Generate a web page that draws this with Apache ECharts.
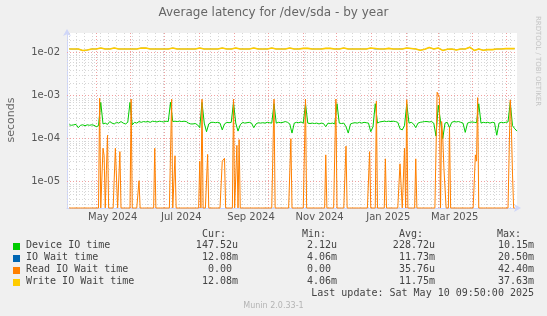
<!DOCTYPE html>
<html>
<head>
<meta charset="utf-8">
<script src="https://cdn.jsdelivr.net/npm/echarts@6/dist/echarts.min.js"></script>
<style>
  html, body { margin: 0; padding: 0; background: #f0f0f0; }
  #chart { width: 547px; height: 316px; }
</style>
</head>
<body>
<div id="chart"></div>
<script>
// the graph covers 400 days ending at the last update
const rangeStart = new Date(2024, 3, 5, 9, 50).getTime();
const rangeEnd = new Date(2025, 4, 10, 9, 50).getTime();
const DAY = 86400000;

// Device IO time (seconds), one value every 2 days starting at day 2
const deviceIoTime = [
  2.1e-4, 2.05e-4, 2.1e-4, 2.15e-4, 1.8e-4, 2.05e-4, 2.1e-4, 2.0e-4, 2.1e-4, 2.05e-4,
  2.1e-4, 2.05e-4, 1.9e-4, 2.0e-4, 7.0e-4, 2.2e-4, 2.3e-4, 2.15e-4, 2.5e-4, 2.3e-4,
  2.2e-4, 2.4e-4, 2.3e-4, 2.5e-4, 2.3e-4, 2.2e-4, 2.4e-4, 7.0e-4, 2.1e-4, 2.4e-4,
  2.3e-4, 2.5e-4, 2.4e-4, 2.5e-4, 2.45e-4, 2.5e-4, 2.4e-4, 2.55e-4, 2.5e-4, 2.45e-4,
  2.55e-4, 2.5e-4, 2.45e-4, 2.55e-4, 2.5e-4, 7.0e-4, 2.5e-4, 2.55e-4, 2.5e-4, 2.55e-4,
  2.5e-4, 2.55e-4, 2.5e-4, 2.3e-4, 2.2e-4, 2.2e-4, 2.25e-4, 2.1e-4, 1.8e-4, 7.0e-4,
  2.3e-4, 1.45e-4, 2.2e-4, 2.4e-4, 2.4e-4, 2.35e-4, 2.4e-4, 2.3e-4, 1.6e-4, 2.2e-4,
  2.4e-4, 2.35e-4, 2.4e-4, 7.0e-4, 2.3e-4, 1.5e-4, 2.1e-4, 2.4e-4, 2.3e-4, 2.35e-4,
  2.4e-4, 2.3e-4, 1.8e-4, 2.2e-4, 2.35e-4, 2.3e-4, 2.35e-4, 2.3e-4, 2.4e-4, 2.35e-4,
  2.3e-4, 6.5e-4, 2.3e-4, 2.4e-4, 2.35e-4, 2.4e-4, 2.5e-4, 2.4e-4, 2.2e-4, 1.35e-4,
  2.3e-4, 2.4e-4, 2.35e-4, 2.45e-4, 2.3e-4, 6.5e-4, 2.3e-4, 2.25e-4, 2.3e-4, 2.25e-4,
  2.3e-4, 2.2e-4, 2.3e-4, 2.25e-4, 1.9e-4, 2.3e-4, 2.25e-4, 2.3e-4, 2.2e-4, 6.5e-4,
  2.3e-4, 2.25e-4, 2.3e-4, 1.9e-4, 1.35e-4, 2.2e-4, 2.3e-4, 2.35e-4, 2.3e-4, 2.4e-4,
  2.3e-4, 2.4e-4, 2.35e-4, 2.3e-4, 1.45e-4, 1.9e-4, 6.5e-4, 2.3e-4, 2.45e-4, 2.5e-4,
  2.55e-4, 2.5e-4, 2.55e-4, 2.5e-4, 2.55e-4, 2.5e-4, 2.4e-4, 1.7e-4, 1.6e-4, 2.0e-4,
  6.5e-4, 2.3e-4, 2.4e-4, 2.2e-4, 1.8e-4, 2.3e-4, 2.4e-4, 2.45e-4, 2.5e-4, 2.5e-4,
  2.45e-4, 2.5e-4, 2.3e-4, 1.15e-4, 6.0e-4, 2.6e-4, 1.0e-4, 2.3e-4, 2.4e-4, 1.8e-4,
  2.4e-4, 2.5e-4, 2.45e-4, 2.5e-4, 2.4e-4, 2.3e-4, 1.4e-4, 2.3e-4, 2.4e-4, 2.45e-4,
  2.4e-4, 2.35e-4, 6.5e-4, 2.3e-4, 2.4e-4, 2.35e-4, 2.4e-4, 2.3e-4, 2.4e-4, 2.35e-4,
  1.2e-4, 2.3e-4, 2.4e-4, 2.35e-4, 2.4e-4, 2.45e-4, 7.0e-4, 2.0e-4, 1.7e-4, 1.5e-4
];
const deviceFirstDay = 2, deviceStep = 2;

// Write IO Wait time and IO Wait time (seconds), one value every 4 days starting at day 2
const writeIoWaitTime = [
  0.0122, 0.0122, 0.0122, 0.0112, 0.0115, 0.0122, 0.0122, 0.0128, 0.0122, 0.0122,
  0.0128, 0.0122, 0.0122, 0.0122, 0.0122, 0.0122, 0.0128, 0.0128, 0.0122, 0.0122,
  0.0122, 0.0122, 0.0122, 0.0128, 0.0122, 0.0122, 0.0122, 0.0122, 0.0122, 0.0128,
  0.0122, 0.0122, 0.0122, 0.0122, 0.0128, 0.0122, 0.0122, 0.0128, 0.0122, 0.0122,
  0.0122, 0.0128, 0.0122, 0.0122, 0.0122, 0.0128, 0.0122, 0.0122, 0.0122, 0.0128,
  0.0122, 0.0122, 0.0126, 0.0126, 0.0122, 0.0122, 0.0122, 0.0126, 0.0126, 0.0122,
  0.0122, 0.0128, 0.0122, 0.0122, 0.0122, 0.0122, 0.0122, 0.0128, 0.0125, 0.0122,
  0.0122, 0.0126, 0.0122, 0.0122, 0.0122, 0.0128, 0.0125, 0.0122, 0.0114, 0.0120,
  0.0132, 0.0122, 0.0128, 0.0113, 0.0120, 0.0122, 0.0116, 0.0122, 0.0122, 0.0134,
  0.0113, 0.0122, 0.0114, 0.0118, 0.0118, 0.0122, 0.0122, 0.0124, 0.0124, 0.0124
];
const ioWaitTime = [
  0.0122, 0.0121, 0.0122, 0.0112, 0.0115, 0.0122, 0.0122, 0.0128, 0.0122, 0.0122,
  0.0128, 0.0122, 0.0122, 0.0122, 0.0122, 0.0122, 0.0128, 0.0128, 0.0122, 0.0122,
  0.0122, 0.0122, 0.0122, 0.0128, 0.0122, 0.0122, 0.0122, 0.0122, 0.0122, 0.0128,
  0.0122, 0.0122, 0.0122, 0.0122, 0.0128, 0.0122, 0.0122, 0.0128, 0.0122, 0.0122,
  0.0122, 0.0128, 0.0122, 0.0122, 0.0122, 0.0128, 0.0122, 0.0122, 0.0122, 0.0128,
  0.0122, 0.0122, 0.0126, 0.0126, 0.0122, 0.0122, 0.0122, 0.0126, 0.0126, 0.0122,
  0.0122, 0.0128, 0.0122, 0.0122, 0.0122, 0.0122, 0.0122, 0.0128, 0.0121, 0.0122,
  0.0122, 0.0126, 0.0122, 0.0122, 0.0122, 0.0128, 0.0125, 0.0122, 0.0114, 0.0120,
  0.0132, 0.0122, 0.0128, 0.0113, 0.0120, 0.0122, 0.0116, 0.0122, 0.0122, 0.0134,
  0.0113, 0.0122, 0.0114, 0.0118, 0.0118, 0.0122, 0.0122, 0.0124, 0.0124, 0.0124
];
const waitFirstDay = 2, waitStep = 4;

// Read IO Wait time: 0 on every day from day 2 to day 398 except these [day, seconds]
const readIoWaitSpikes = [
  [29, 8.7e-4], [32, 6e-5], [33, 4e-5], [35, 1.8e-5], [36, 1.2e-4], [43, 6e-5], [44, 6e-5],
  [47, 5e-5], [57, 8.3e-4], [64, 1.05e-5], [78, 6e-5], [93, 8.3e-4], [96, 4e-5],
  [118, 3e-5], [120, 8.3e-4], [125, 4.3e-5], [138, 3e-5], [139, 3.2e-5], [140, 3.5e-5],
  [148, 8.3e-4], [151, 7e-5], [153, 9.5e-5], [184, 8.3e-4], [199, 1e-4], [212, 8.3e-4],
  [230, 4.2e-5], [239, 8.3e-4], [248, 6.7e-5], [269, 5e-5], [275, 7.5e-4], [283, 3.4e-5],
  [296, 2.6e-5], [297, 2.6e-5], [300, 6e-5], [302, 8e-4], [310, 3.4e-5],
  [329, 1.2e-3], [330, 1.1e-3], [331, 9e-4], [333, 2.5e-4], [334, 1.1e-4], [335, 2.1e-5],
  [336, 2.1e-5], [340, 1.8e-4], [363, 4.2e-5], [364, 3e-5], [365, 9e-4],
  [394, 8e-4], [395, 1.8e-4], [396, 1.5e-5]
];
const readFirstDay = 2, readLastDay = 398;

// axes
const yTickValues = [1e-5, 1e-4, 1e-3, 1e-2];
const yTickLabels = ['1e-05', '1e-04', '1e-03', '1e-02'];
const yMinorValues = [
  3e-6, 4e-6, 5e-6, 6e-6, 7e-6, 8e-6, 9e-6,
  2e-5, 3e-5, 4e-5, 5e-5, 6e-5, 7e-5, 8e-5, 9e-5,
  2e-4, 3e-4, 4e-4, 5e-4, 6e-4, 7e-4, 8e-4, 9e-4,
  2e-3, 3e-3, 4e-3, 5e-3, 6e-3, 7e-3, 8e-3, 9e-3,
  2e-2
];
const yBottom = 2.44e-6, yTop = 0.0287;
const xLabelDates = [[2024, 4, 16], [2024, 6, 16], [2024, 8, 16], [2024, 10, 16], [2025, 0, 16], [2025, 2, 16]];
const xLabelTexts = ['May 2024', 'Jul 2024', 'Sep 2024', 'Nov 2024', 'Jan 2025', 'Mar 2025'];

// legend table
const legendNames = ['Device IO time', 'IO Wait time', 'Read IO Wait time', 'Write IO Wait time'];
const legendColors = ['#00cc00', '#0066b3', '#ff8000', '#ffcc00'];
const legendCur = ['147.52u', '12.08m', '0.00 ', '12.08m'];
const legendMin = ['2.12u', '4.06m', '0.00 ', '4.06m'];
const legendAvg = ['228.72u', '11.73m', '35.76u', '11.75m'];
const legendMax = ['10.15m', '20.50m', '42.40m', '37.63m'];
const lastUpdate = 'Last update: Sat May 10 09:50:00 2025';

const log = Math.log10;
const yMin = log(yBottom), yMax = log(yTop);
const dayTime = d => rangeStart + d * DAY;

const deviceData = deviceIoTime.map((v, i) => [dayTime(deviceFirstDay + i * deviceStep), log(v)]);
const writeData = writeIoWaitTime.map((v, i) => [dayTime(waitFirstDay + i * waitStep), log(v)]);
const ioWaitData = ioWaitTime.map((v, i) => [dayTime(waitFirstDay + i * waitStep), log(v)]);
const readByDay = new Map(readIoWaitSpikes);
const readData = [];
for (let d = readFirstDay; d <= readLastDay; d++) {
  const v = readByDay.get(d) || 0;
  readData.push([dayTime(d), v > 0 ? log(v) : yMin]);
}

// rrdtool style grid: gray dotted minor lines, red dotted major lines
const minorStyle = { color: '#d6d6d6', type: [1, 2], width: 1 };
const majorStyle = { color: '#f0a0a0', type: [1, 2], width: 1 };
const gridLines = [];
for (let k = 0; ; k++) {
  const t = new Date(2024, 3, 7 + 7 * k).getTime(); // Sundays
  if (t > rangeEnd) break;
  gridLines.push({ xAxis: t, lineStyle: minorStyle });
}
yMinorValues.forEach(v => gridLines.push({ yAxis: log(v), lineStyle: minorStyle }));
for (let k = 0; k <= 12; k++) {
  gridLines.push({ xAxis: new Date(2024, 4 + k, 1).getTime(), lineStyle: majorStyle });
}
yTickValues.forEach(v => gridLines.push({ yAxis: log(v), lineStyle: majorStyle }));

const xLabelTimes = xLabelDates.map(d => new Date(d[0], d[1], d[2]).getTime());
const yLabelValues = yTickValues.map(log);

const mono = '"DejaVu Sans Mono"';
const sans = '"DejaVu Sans"';
const legendFill = '#444';
const graphics = [];
function addText(text, x, y, align, extra) {
  graphics.push(Object.assign({
    type: 'text', x: x, y: y, silent: true,
    style: { text: text, font: '10px ' + mono, fill: legendFill,
      align: align, textAlign: align, verticalAlign: 'middle', textVerticalAlign: 'middle' }
  }, extra || {}));
}
const headerY = 234, rowY0 = 245.5, rowStep = 12;
addText('Cur:', 202, headerY, 'left');
addText('Min:', 302, headerY, 'left');
addText('Avg:', 399, headerY, 'left');
addText('Max:', 497, headerY, 'left');
legendNames.forEach((name, i) => {
  const y = rowY0 + i * rowStep;
  graphics.push({ type: 'rect', silent: true, shape: { x: 13, y: Math.round(y) - 3, width: 7, height: 7 },
    style: { fill: legendColors[i] } });
  addText(name, 26, y, 'left');
  addText(legendCur[i], 238, y, 'right');
  addText(legendMin[i], 337, y, 'right');
  addText(legendAvg[i], 435, y, 'right');
  addText(legendMax[i], 534, y, 'right');
});
addText(lastUpdate, 534, rowY0 + 4 * rowStep, 'right');
graphics.push({ type: 'text', x: 273.5, y: 306, silent: true,
  style: { text: 'Munin 2.0.33-1', font: '8px ' + sans, fill: '#b4b4b4',
    align: 'center', textAlign: 'center', verticalAlign: 'middle', textVerticalAlign: 'middle' } });
graphics.push({ type: 'text', x: 11, y: 120, rotation: Math.PI / 2, silent: true,
  style: { text: 'seconds', font: '11px ' + sans, fill: '#666',
    align: 'center', textAlign: 'center', verticalAlign: 'middle', textVerticalAlign: 'middle' } });
graphics.push({ type: 'text', x: 538, y: 61, rotation: -Math.PI / 2, silent: true,
  style: { text: 'RRDTOOL / TOBI OETIKER', font: '7px ' + sans, fill: '#c4c4c4',
    align: 'center', textAlign: 'center', verticalAlign: 'middle', textVerticalAlign: 'middle' } });

const lineSeries = (name, data, color, extra) => Object.assign({
  name: name, type: 'line', data: data, showSymbol: false, symbol: 'none',
  lineStyle: { color: color, width: 1 }, itemStyle: { color: color },
  silent: true, z: 3
}, extra || {});

const myChart = echarts.init(document.getElementById('chart'));
const option = {
  animation: false,
  backgroundColor: '#f0f0f0',
  title: {
    text: 'Average latency for /dev/sda - by year',
    left: 'center', top: 7, padding: 0,
    textStyle: { fontFamily: sans, fontSize: 12, fontWeight: 'normal', color: '#666' }
  },
  grid: { left: 67, right: 30, top: 33, bottom: 108, show: true, backgroundColor: '#ffffff', borderWidth: 0 },
  xAxis: {
    type: 'value', min: rangeStart, max: rangeEnd,
    axisLine: { show: true, lineStyle: { color: '#cfd6f8' }, symbol: ['none', 'arrow'], symbolSize: [6, 7], symbolOffset: [0, 4] },
    axisTick: { show: false },
    splitLine: { show: false },
    axisLabel: {
      customValues: xLabelTimes,
      formatter: v => {
        const i = xLabelTimes.findIndex(u => Math.abs(u - v) < 1000);
        return i >= 0 ? xLabelTexts[i] : '';
      },
      margin: 4, fontFamily: sans, fontSize: 10, color: '#555'
    }
  },
  yAxis: {
    type: 'value', min: yMin, max: yMax,
    axisLine: { show: true, lineStyle: { color: '#cfd6f8' }, symbol: ['none', 'arrow'], symbolSize: [6, 7], symbolOffset: [0, 4] },
    axisTick: { show: false },
    splitLine: { show: false },
    axisLabel: {
      customValues: yLabelValues,
      formatter: v => {
        const i = yLabelValues.findIndex(u => Math.abs(u - v) < 1e-6);
        return i >= 0 ? yTickLabels[i] : '';
      },
      margin: 7, fontFamily: sans, fontSize: 10, color: '#555'
    }
  },
  series: [
    {
      type: 'line', data: [], silent: true, z: 1,
      markLine: { silent: true, z: 1, symbol: ['none', 'none'], label: { show: false },
        animation: false, emphasis: { disabled: true }, data: gridLines }
    },
    lineSeries('Device IO time', deviceData, '#00cc00'),
    lineSeries('IO Wait time', ioWaitData, '#0066b3', { lineStyle: { color: '#0066b3', width: 0.6 } }),
    lineSeries('Read IO Wait time', readData, '#ff8000', { clip: false }),
    lineSeries('Write IO Wait time', writeData, '#ffcc00', { lineStyle: { color: '#ffcc00', width: 1.6 } })
  ],
  graphic: { elements: graphics }
};
myChart.setOption(option);
</script>
</body>
</html>
